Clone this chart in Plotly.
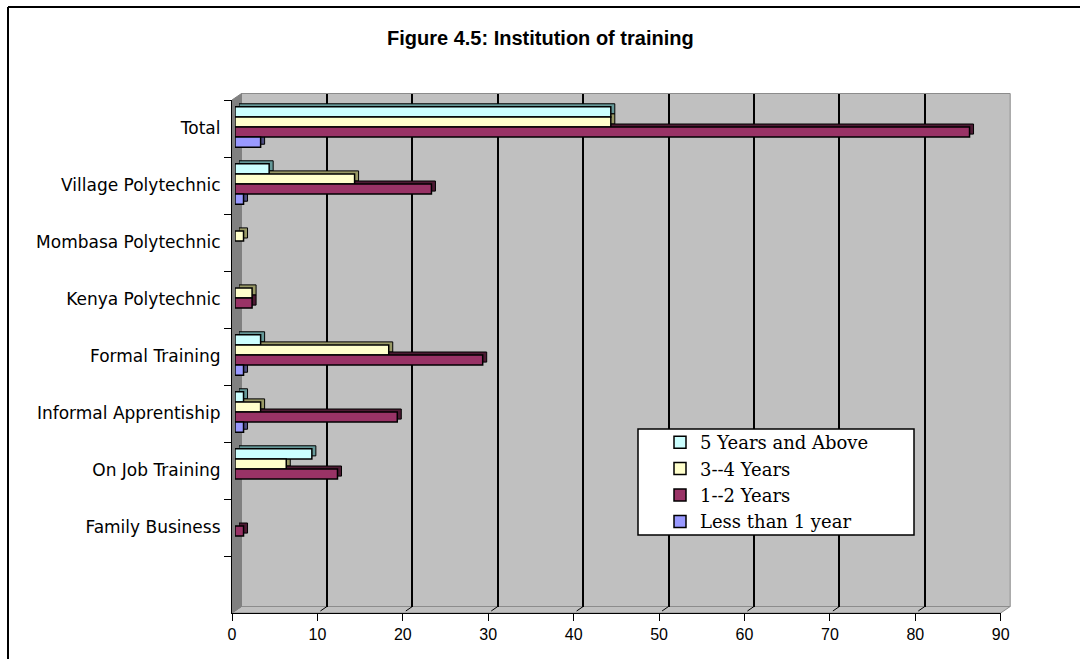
import plotly.graph_objects as go

W, H = 1080, 659

categories = ['Total', 'Village Polytechnic', 'Mombasa Polytechnic', 'Kenya Polytechnic',
              'Formal Training', 'Informal Apprentiship', 'On Job Training', 'Family Business', ' ']
five_plus = [44, 4, None, None, 3, 1, 9, None, None]
three_four = [44, 14, 1, 2, 18, 3, 6, None, None]
one_two = [86, 23, None, 2, 29, 19, 12, 1, None]
less_one = [3, 1, None, None, 1, 1, None, None, None]
x_ticks = [0, 10, 20, 30, 40, 50, 60, 70, 80, 90]

series = [('5 Years and Above', five_plus, '#CCFFFF', '#669999'),
          ('3--4 Years', three_four, '#FFFFCC', '#999966'),
          ('1--2 Years', one_two, '#993366', '#4D1A33'),
          ('Less than 1 year', less_one, '#9999FF', '#4D4D80')]

# pixel box of the axes, then how far each layer is pushed for the fake 3D look
X0, X1, Y0, Y1 = 232, 1000.7, 100, 613
WALL_DX, WALL_DY = 9.5, -6.5


def dom_x(dx=0):
    return [(X0 + dx) / W, (X1 + dx) / W]


def dom_y(dy=0):
    return [1 - (Y1 + dy) / H, 1 - (Y0 + dy) / H]


def paper(px, py):
    return px / W, 1 - py / H


def poly(points, fill, line='#8C8C8C', layer='below'):
    path = 'M' + ' L'.join(f'{px / W},{1 - py / H}' for px, py in points) + ' Z'
    return dict(type='path', path=path, xref='paper', yref='paper', fillcolor=fill,
                line=dict(color=line, width=1), layer=layer)


fig = go.Figure()

# wall layer only carries the grid lines
fig.add_trace(go.Scatter(x=x_ticks, y=[0] * len(x_ticks), mode='none', showlegend=False,
                         hoverinfo='skip', xaxis='x', yaxis='y'))
# tick layer, no marks of its own
fig.add_trace(go.Bar(y=categories, x=[None] * len(categories), orientation='h', showlegend=False,
                     hoverinfo='skip', xaxis='x2', yaxis='y2'))
for name, vals, col, dark in series:
    fig.add_trace(go.Bar(y=categories, x=vals, orientation='h', name=name, showlegend=False,
                         marker=dict(color=dark, line=dict(color='black', width=1)),
                         hoverinfo='skip', xaxis='x3', yaxis='y3'))
for name, vals, col, dark in series:
    fig.add_trace(go.Bar(y=categories, x=vals, orientation='h', name=name,
                         marker=dict(color=col, line=dict(color='black', width=1.5)),
                         xaxis='x4', yaxis='y4'))

shapes = [poly([(X0 + WALL_DX, Y0 + WALL_DY), (X1 + WALL_DX, Y0 + WALL_DY),
                (X1 + WALL_DX, Y1 + WALL_DY), (X0 + WALL_DX, Y1 + WALL_DY)], '#C0C0C0'),
          poly([(X0, Y1), (X0 + WALL_DX, Y1 + WALL_DY), (X1 + WALL_DX, Y1 + WALL_DY), (X1, Y1)], '#C0C0C0'),
          poly([(X0, Y0), (X0 + WALL_DX, Y0 + WALL_DY), (X0 + WALL_DX, Y1 + WALL_DY), (X0, Y1)], '#808080', '#808080')]

# little diagonal ticks joining the floor to the wall
for v in x_ticks[1:-1]:
    px = X0 + (X1 - X0) * v / 90
    a, b = paper(px + 3, Y1 - 2)
    c, d = paper(px + WALL_DX, Y1 + WALL_DY)
    shapes.append(dict(type='line', xref='paper', yref='paper', x0=a, y0=b, x1=c, y1=d,
                       line=dict(color='black', width=1), layer='below'))

# outer frame, it is cut off on the right and at the bottom of the picture
fx0, fy0 = paper(8, 7)
shapes.append(dict(type='line', xref='paper', yref='paper', x0=fx0, y0=fy0, x1=1, y1=fy0,
                   line=dict(color='black', width=2)))
shapes.append(dict(type='line', xref='paper', yref='paper', x0=fx0, y0=fy0, x1=fx0, y1=0,
                   line=dict(color='black', width=2)))

# legend box: plotly will not widen a vertical legend, so the box sits under a see-through legend
box = poly([(638, 429), (914, 429), (914, 535), (638, 535)], 'white', 'black', 'above')
box['line']['width'] = 1.5
shapes.append(box)

fig.update_layout(
    width=W, height=H, margin=dict(l=0, r=0, t=0, b=0, autoexpand=False), autosize=False,
    paper_bgcolor='white', plot_bgcolor='rgba(0,0,0,0)',
    barmode='group', bargap=0.29, bargroupgap=0,
    shapes=shapes, showlegend=True,
    font=dict(family='Liberation Sans', color='black'),
    annotations=[dict(text='<b>Figure 4.5: Institution of training</b>', xref='paper', yref='paper',
                      x=0.5, y=1 - 38 / H, xanchor='center', yanchor='middle', showarrow=False,
                      font=dict(family='Liberation Sans', size=20, color='black'))],
    legend=dict(x=660 / W, y=1 - 424 / H, xanchor='left', yanchor='top', bgcolor='rgba(0,0,0,0)',
                borderwidth=0, traceorder='normal', itemwidth=30,
                font=dict(family='DejaVu Serif', size=18, color='black'), itemclick=False),
    xaxis=dict(domain=dom_x(WALL_DX), range=[0, 90], tickvals=x_ticks, showgrid=True, gridcolor='black',
               gridwidth=1.5, showticklabels=False, ticks='', showline=False, zeroline=False, anchor='y'),
    yaxis=dict(domain=dom_y(WALL_DY), range=[0, 1], visible=False, anchor='x'),
    xaxis2=dict(domain=dom_x(), range=[0, 90], tickvals=x_ticks, anchor='y2', showgrid=False,
                ticks='outside', ticklen=7, tickcolor='black', showline=True, linecolor='black', linewidth=1.2,
                zeroline=False, tickfont=dict(family='Liberation Sans', size=16, color='black')),
    yaxis2=dict(domain=dom_y(), type='category', categoryorder='array', categoryarray=categories,
                autorange='reversed', anchor='x2', tickson='boundaries', ticks='outside', dtick=1,
                ticklen=7, tickcolor='black', showline=True, linecolor='black', linewidth=1.2, showgrid=False,
                ticklabelstandoff=7, tickfont=dict(family='DejaVu Sans', size=17, color='black')),
    xaxis3=dict(domain=dom_x(7), range=[0, 90], anchor='y3', visible=False),
    yaxis3=dict(domain=dom_y(-4.5), type='category', categoryorder='array', categoryarray=categories,
                autorange='reversed', anchor='x3', visible=False),
    xaxis4=dict(domain=dom_x(3), range=[0, 90], anchor='y4', visible=False),
    yaxis4=dict(domain=dom_y(-1.5), type='category', categoryorder='array', categoryarray=categories,
                autorange='reversed', anchor='x4', visible=False),
)

fig.write_html("out.html", config={'displayModeBar': False}, post_script="document.body.style.margin='0';")
